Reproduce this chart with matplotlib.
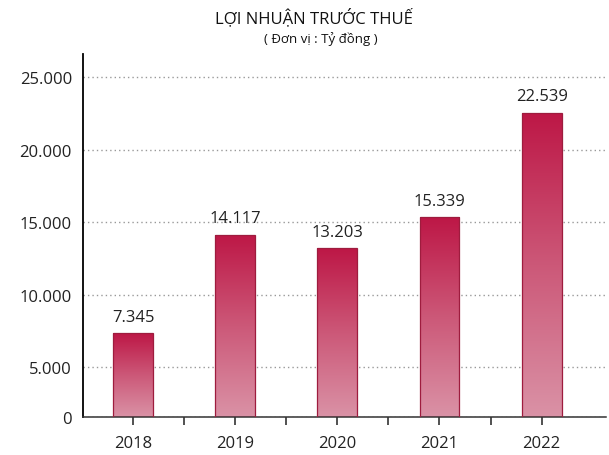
import numpy as np
import matplotlib
matplotlib.use("Agg")
import matplotlib.pyplot as plt
import matplotlib.ticker as ticker
from matplotlib.colors import LinearSegmentedColormap

# data
years = ["2018", "2019", "2020", "2021", "2022"]
profit = [7345, 14117, 13203, 15339, 22539]
value_labels = ["7.345", "14.117", "13.203", "15.339", "22.539"]
y_ticks = [0, 5000, 10000, 15000, 20000, 25000]
y_tick_labels = ["0", "5.000", "10.000", "15.000", "20.000", "25.000"]

title = "LỢI NHUẬN TRƯỚC THUẾ"
subtitle = "( Đơn vị : Tỷ đồng )"

FONT = ["Open Sans", "DejaVu Sans"]
TITLE_FONT = ["Liberation Sans Narrow", "Open Sans", "DejaVu Sans"]


# the source image squeezes the 0-5.000 band, use a piecewise scale for that
def _fwd(y):
    y = np.asarray(y, dtype=float)
    return np.where(y <= 5000, y / 5000 * 50, 50 + (y - 5000) / 5000 * 72.5)


def _inv(p):
    p = np.asarray(p, dtype=float)
    return np.where(p <= 50, p / 50 * 5000, 5000 + (p - 50) / 72.5 * 5000)


fig = plt.figure(figsize=(6.09, 4.56), dpi=100)
ax = fig.add_axes([83 / 609, 1 - 418 / 456, (606 - 83) / 609, (418 - 55) / 456])
ax.set_yscale("function", functions=(_fwd, _inv))

x = np.arange(len(years))
bars = ax.bar(x, profit, width=0.39, facecolor="none", edgecolor="#9e1c3e",
              linewidth=0.9, zorder=3)

ax.set_xlim(-0.49, 4.63)
ax.set_ylim(0, 26590)

# gradient fill per bar, dark on top and light at the base
cmap = LinearSegmentedColormap.from_list("bar", ["#da92a6", "#cc5878", "#bd1746"])
grad = np.linspace(0, 1, 256).reshape(-1, 1)
to_axes = ax.transAxes.inverted()
for xi, v, b in zip(x, profit, bars):
    top = to_axes.transform(ax.transData.transform((xi, v)))[1]
    x0 = to_axes.transform(ax.transData.transform((xi - 0.195, 0)))[0]
    x1 = to_axes.transform(ax.transData.transform((xi + 0.195, 0)))[0]
    im = ax.imshow(grad, cmap=cmap, origin="lower", aspect="auto",
                   extent=[x0, x1, 0, top], transform=ax.transAxes, zorder=2)
    im.set_clip_path(b)

for xi, v, lab in zip(x, profit, value_labels):
    ax.annotate(lab, (xi, v), xytext=(0, 6), textcoords="offset points",
                ha="center", va="bottom", fontsize=12, color="#222222",
                family=FONT)

ax.set_yticks(y_ticks)
ax.set_yticklabels(y_tick_labels, family=FONT, fontsize=12, color="#222222")
ax.tick_params(axis="y", length=0, pad=8)

ax.set_xticks(x)
ax.set_xticklabels(years, family=FONT, fontsize=12, color="#222222")
ax.xaxis.set_minor_locator(ticker.FixedLocator([0.5, 1.5, 2.5, 3.5]))
ax.tick_params(axis="x", which="both", direction="out", length=6, width=1.1,
               color="#222222", pad=7)

ax.yaxis.grid(True, linestyle=(0, (1, 2.2)), color="#999999", linewidth=1.0)
ax.set_axisbelow(True)
for s in ["top", "right"]:
    ax.spines[s].set_visible(False)
ax.spines["left"].set_linewidth(1.3)
ax.spines["bottom"].set_linewidth(1.1)
ax.spines["bottom"].set_color("#333333")

fig.text(314 / 609, 1 - 18 / 456, title, ha="center", va="center",
         fontsize=12, color="#111111", family=TITLE_FONT)
fig.text(321 / 609, 1 - 39 / 456, subtitle, ha="center", va="center",
         fontsize=9.5, color="#111111", family=FONT)

fig.savefig("out.png", dpi=100)
